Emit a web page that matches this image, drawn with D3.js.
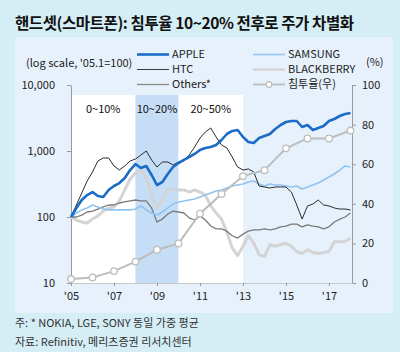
<!DOCTYPE html>
<html>
<head>
<meta charset="utf-8">
<script src="https://cdn.jsdelivr.net/npm/d3@7"></script>
<style>
  body { margin: 0; background: #d5edf4; }
  text { font-family: "Noto Sans CJK KR", "Noto Sans", sans-serif; }
</style>
</head>
<body>
<script>
// quarterly dates, '05.1 = 100
const quarters = [2005, 2005.25, 2005.5, 2005.75, 2006, 2006.25, 2006.5, 2006.75,
  2007, 2007.25, 2007.5, 2007.75, 2008, 2008.25, 2008.5, 2008.75,
  2009, 2009.25, 2009.5, 2009.75, 2010, 2010.25, 2010.5, 2010.75,
  2011, 2011.25, 2011.5, 2011.75, 2012, 2012.25, 2012.5, 2012.75,
  2013, 2013.25, 2013.5, 2013.75, 2014, 2014.25, 2014.5, 2014.75,
  2015, 2015.25, 2015.5, 2015.75, 2016, 2016.25, 2016.5, 2016.75,
  2017, 2017.25, 2017.5, 2017.75, 2018];

const apple = [100, 137, 181, 215, 239, 208, 201, 257, 295, 327, 390, 515,
  635, 553, 593, 433, 305, 339, 448, 572, 658, 731, 811, 901,
  1035, 1110, 1150, 1233, 1468, 1810, 2010, 2080, 1630, 1370, 1322, 1574,
  1688, 1810, 2154, 2477, 2750, 2848, 2848, 2310, 2477, 2080, 2232, 2391,
  2848, 3054, 3390, 3636, 3765];

const htc = [100, 152, 231, 351, 481, 706, 783, 783, 593, 515, 593, 706,
  756, 870, 1000, 731, 572, 681, 681, 614, 681, 706, 870, 1150,
  1574, 1941, 2232, 1630, 1233, 1110, 811, 572, 515, 534, 481, 295,
  285, 275, 285, 285, 285, 239, 152, 93, 147, 157, 181, 152,
  147, 137, 132, 132, 128];

const others = [100, 100, 107, 119, 123, 132, 142, 152, 152, 163, 169, 175,
  181, 175, 175, 137, 84, 93, 111, 123, 119, 115, 97, 90,
  104, 90, 73, 66, 66, 61, 52, 48, 55, 61, 64, 64,
  66, 64, 66, 71, 73, 78, 78, 71, 76, 73, 71, 66,
  71, 84, 93, 100, 115];

const samsung = [100, 115, 128, 137, 152, 142, 132, 128, 128, 128, 128, 128,
  132, 147, 128, 115, 107, 119, 137, 157, 169, 175, 181, 187,
  201, 215, 231, 248, 257, 275, 295, 305, 316, 339, 351, 316,
  295, 316, 305, 305, 295, 285, 295, 266, 285, 305, 327, 364,
  404, 448, 515, 593, 572];

const blackberry = [100, 90, 84, 81, 93, 104, 123, 137, 142, 175, 257, 376,
  464, 515, 390, 215, 137, 181, 257, 266, 257, 257, 239, 257,
  239, 215, 147, 115, 93, 59, 34, 26, 36, 52, 40, 27,
  25, 38, 36, 38, 40, 36, 30, 28, 32, 29, 28, 29,
  30, 42, 42, 43, 48];

// smartphone penetration (%), right axis
const penYears = [2005, 2006, 2007, 2008, 2009, 2010, 2011, 2012, 2013, 2014, 2015, 2016, 2017, 2018];
const penetration = [2, 2.8, 6, 10.8, 16.8, 20, 35, 45, 54, 57, 68, 73, 73, 77];

const xTicks = [2005, 2007, 2009, 2011, 2013, 2015, 2017];
const leftTicks = [10, 100, 1000, 10000];
const rightTicks = [0, 20, 40, 60, 80, 100];

const phases = [
  {label: "0~10%", from: 2005, to: 2008, fill: "#ffffff"},
  {label: "10~20%", from: 2008, to: 2010, fill: "#c6ddf6"},
  {label: "20~50%", from: 2010, to: 2013, fill: "#ffffff"}
];

const width = 400, height = 352;
const svg = d3.select("body").append("svg")
  .attr("width", width)
  .attr("height", height);

svg.append("rect").attr("width", width).attr("height", height).attr("fill", "#d5edf4");
svg.append("rect").attr("x", 15).attr("y", 37).attr("width", 378).attr("height", 276)
  .attr("fill", "#e7f1fc");

svg.append("text")
  .attr("x", 15).attr("y", 28.5)
  .attr("font-size", 15.5).attr("font-weight", "bold").attr("fill", "#111")
  .attr("textLength", 339).attr("lengthAdjust", "spacing")
  .text("핸드셋(스마트폰): 침투율 10~20% 전후로 주가 차별화");

const x = d3.scaleLinear().domain([2005, 2018.07]).range([71, 352]);
const yL = d3.scaleLog().domain([10, 10000]).range([283, 85]);
const yR = d3.scaleLinear().domain([0, 100]).range([283, 85]);

// phase backgrounds
svg.selectAll("rect.phase").data(phases).enter().append("rect")
  .attr("class", "phase")
  .attr("x", d => x(d.from))
  .attr("width", d => x(d.to) - x(d.from))
  .attr("y", 95)
  .attr("height", 283 - 95)
  .attr("fill", d => d.fill);

svg.selectAll("text.phase").data(phases).enter().append("text")
  .attr("class", "phase")
  .attr("x", d => (x(d.from) + x(d.to)) / 2)
  .attr("y", 109).attr("dy", "0.35em")
  .attr("text-anchor", "middle")
  .attr("font-size", 11).attr("fill", "#111")
  .text(d => d.label);

// axes
function styleAxis(g) {
  g.selectAll("path, line").attr("stroke", "#9a9a9a");
  g.selectAll("text").attr("font-size", 11).attr("fill", "#222")
    .attr("font-family", "\"Noto Sans CJK KR\", \"Noto Sans\", sans-serif");
}

svg.append("g")
  .attr("transform", "translate(71,0)")
  .call(d3.axisLeft(yL).tickValues(leftTicks).tickFormat(d3.format(",")).tickSize(4).tickSizeOuter(0).tickPadding(12))
  .call(styleAxis);

svg.append("g")
  .attr("transform", "translate(352,0)")
  .call(d3.axisRight(yR).tickValues(rightTicks).tickSize(4).tickSizeOuter(0).tickPadding(6))
  .call(styleAxis);

svg.append("g")
  .attr("transform", "translate(0,283)")
  .call(d3.axisBottom(x).tickValues(xTicks).tickFormat(d => "'" + String(d).slice(2)).tickSize(3).tickSizeOuter(0).tickPadding(6))
  .call(styleAxis)
  .select(".domain").attr("stroke", "#c8c8c8");

// series
const series = [
  {name: "BLACKBERRY", values: blackberry, color: "#d4d4d4", w: 3},
  {name: "Others*", values: others, color: "#7a7a7a", w: 1.3},
  {name: "SAMSUNG", values: samsung, color: "#8fc3f0", w: 1.6},
  {name: "HTC", values: htc, color: "#2b2b2b", w: 1},
  {name: "APPLE", values: apple, color: "#1b6cc6", w: 2.6}
];

const line = d3.line()
  .x((d, i) => x(quarters[i]))
  .y(d => yL(d));

series.forEach(s => {
  svg.append("path")
    .datum(s.values)
    .attr("fill", "none")
    .attr("stroke", s.color)
    .attr("stroke-width", s.w)
    .attr("stroke-linejoin", "round")
    .attr("d", line);
});

const penLine = d3.line()
  .x((d, i) => x(penYears[i]))
  .y(d => yR(d));

svg.append("path")
  .datum(penetration)
  .attr("fill", "none")
  .attr("stroke", "#bdbdbd")
  .attr("stroke-width", 2)
  .attr("d", penLine);

svg.selectAll("circle.pen").data(penetration).enter().append("circle")
  .attr("class", "pen")
  .attr("cx", (d, i) => x(penYears[i]))
  .attr("cy", d => yR(d))
  .attr("r", 3.3)
  .attr("fill", "#ffffff")
  .attr("stroke", "#bdbdbd")
  .attr("stroke-width", 1.3);

// legend
const legend = [
  {name: "APPLE", color: "#1b6cc6", w: 2.6, col: 0, row: 0},
  {name: "HTC", color: "#3a3a3a", w: 1, col: 0, row: 1},
  {name: "Others*", color: "#8a8a8a", w: 1.3, col: 0, row: 2},
  {name: "SAMSUNG", color: "#9fcbf2", w: 1.8, col: 1, row: 0},
  {name: "BLACKBERRY", color: "#d6d6d6", w: 2.4, col: 1, row: 1},
  {name: "침투율(우)", color: "#bdbdbd", w: 1.8, col: 1, row: 2, dot: true}
];
const colX = [137, 253];
const rowY = [54.5, 69.5, 84.5];

legend.forEach(l => {
  const lx = colX[l.col], ly = rowY[l.row];
  svg.append("line")
    .attr("x1", lx).attr("x2", lx + 32)
    .attr("y1", ly).attr("y2", ly)
    .attr("stroke", l.color).attr("stroke-width", l.w);
  if (l.dot) {
    svg.append("circle").attr("cx", lx + 16).attr("cy", ly).attr("r", 2.8)
      .attr("fill", "#fff").attr("stroke", l.color).attr("stroke-width", 1.2);
  }
  svg.append("text")
    .attr("x", lx + 35).attr("y", ly).attr("dy", "0.35em")
    .attr("font-size", 11).attr("fill", "#222")
    .text(l.name);
});

svg.append("text")
  .attr("x", 26).attr("y", 63.5).attr("dy", "0.35em")
  .attr("font-size", 11).attr("fill", "#222")
  .text("(log scale, '05.1=100)");

svg.append("text")
  .attr("x", 366).attr("y", 62.5).attr("dy", "0.35em")
  .attr("font-size", 11).attr("fill", "#222")
  .text("(%)");

// notes
svg.append("text")
  .attr("x", 15).attr("y", 323.5).attr("dy", "0.35em")
  .attr("font-size", 11).attr("fill", "#333")
  .text("주: * NOKIA, LGE, SONY 동일 가중 평균");

svg.append("text")
  .attr("x", 15).attr("y", 342).attr("dy", "0.35em")
  .attr("font-size", 11).attr("fill", "#333")
  .text("자료: Refinitiv, 메리츠증권 리서치센터");
</script>
</body>
</html>
